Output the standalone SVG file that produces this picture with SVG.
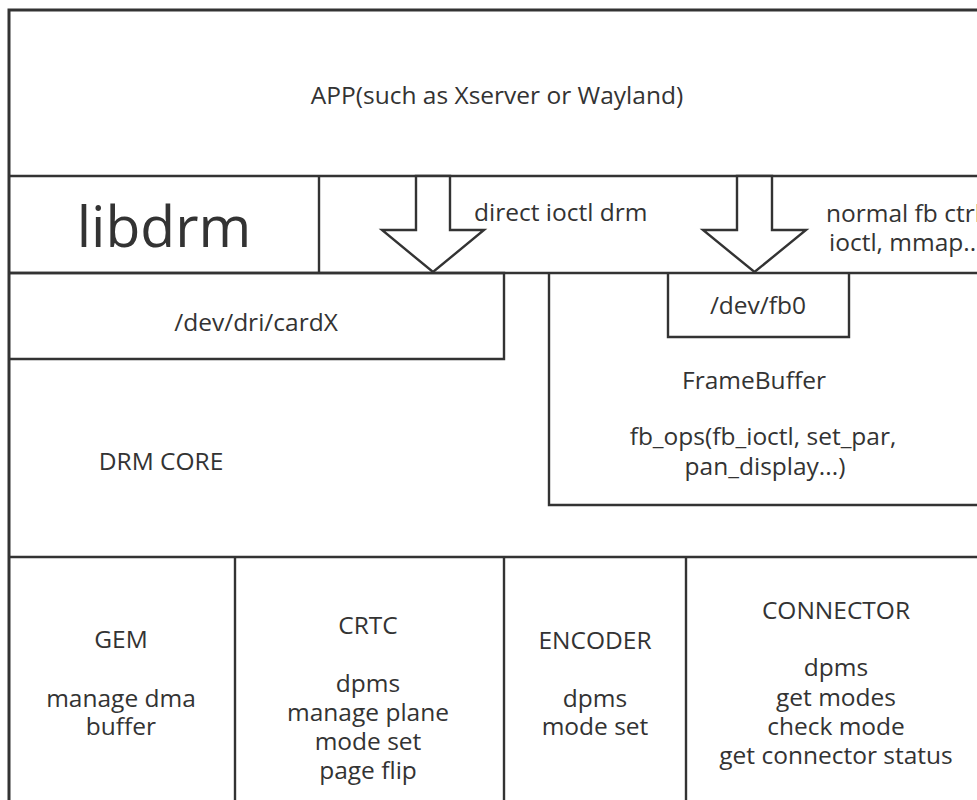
<svg xmlns="http://www.w3.org/2000/svg" width="977" height="800" viewBox="0 0 977 800">
<style>
.ln{fill:none;stroke:#333;stroke-width:2.4}
.bx{fill:#fff;stroke:#333;stroke-width:3}
.ar{fill:#fff;stroke:#333;stroke-width:2.4;stroke-linejoin:miter}
text{font-family:"Open Sans","DejaVu Sans",sans-serif;font-size:24.5px;fill:#333;text-anchor:middle}
.st{text-anchor:start}
.big{font-size:57px}
</style>
<rect width="977" height="800" fill="#fff"/>
<g id="frame">
<rect x="9" y="10" width="980" height="805" class="bx"/>
</g>
<g id="app">
<text x="497" y="104">APP(such as Xserver or Wayland)</text>
</g>
<g id="libdrm-row">
<line x1="9" y1="176" x2="990" y2="176" class="ln"/>
<line x1="319" y1="176" x2="319" y2="273" class="ln"/>
<line x1="9" y1="273" x2="990" y2="273" class="ln"/>
</g>
<g id="libdrm">
<text x="164" y="247" class="big">libdrm</text>
</g>
<g id="cardX">
<path d="M9,273 H504 V359 H9" class="ln"/>
<text x="256" y="331">/dev/dri/cardX</text>
</g>
<g id="framebuffer">
<path d="M549,273 V505 H990" class="ln"/>
<text x="754" y="389">FrameBuffer</text>
<text x="763" y="445">fb_ops(fb_ioctl, set_par,</text>
<text x="765" y="475">pan_display...)</text>
</g>
<g id="fb0">
<path d="M668,273 V337 H849 V273" class="ln"/>
<text x="758" y="314">/dev/fb0</text>
</g>
<g id="drmcore">
<text x="161" y="470">DRM CORE</text>
<line x1="9" y1="557" x2="990" y2="557" class="ln"/>
</g>
<g id="gem">
<text x="121" y="648">GEM</text>
<text x="121" y="707">manage dma</text>
<text x="121" y="735">buffer</text>
</g>
<g id="crtc">
<line x1="235" y1="557" x2="235" y2="810" class="ln"/>
<text x="368" y="634">CRTC</text>
<text x="368" y="692">dpms</text>
<text x="368" y="721">manage plane</text>
<text x="368" y="750">mode set</text>
<text x="368" y="779">page flip</text>
</g>
<g id="encoder">
<line x1="504" y1="557" x2="504" y2="810" class="ln"/>
<text x="595" y="649">ENCODER</text>
<text x="595" y="707">dpms</text>
<text x="595" y="735">mode set</text>
</g>
<g id="connector">
<line x1="686" y1="557" x2="686" y2="810" class="ln"/>
<text x="836" y="619">CONNECTOR</text>
<text x="836" y="676">dpms</text>
<text x="836" y="706">get modes</text>
<text x="836" y="735">check mode</text>
<text x="836" y="764">get connector status</text>
</g>
<g id="connectors">
<polygon points="416,176 450,176 450,230 484,230 433,272 382,230 416,230" class="ar"/>
<polygon points="737,176 772,176 772,230 806,230 754.5,272 703,230 737,230" class="ar"/>
<text x="474" y="221" class="st">direct ioctl drm</text>
<text x="826" y="222" class="st">normal fb ctrl</text>
<text x="829" y="251" class="st">ioctl, mmap...</text>
</g>
</svg>
